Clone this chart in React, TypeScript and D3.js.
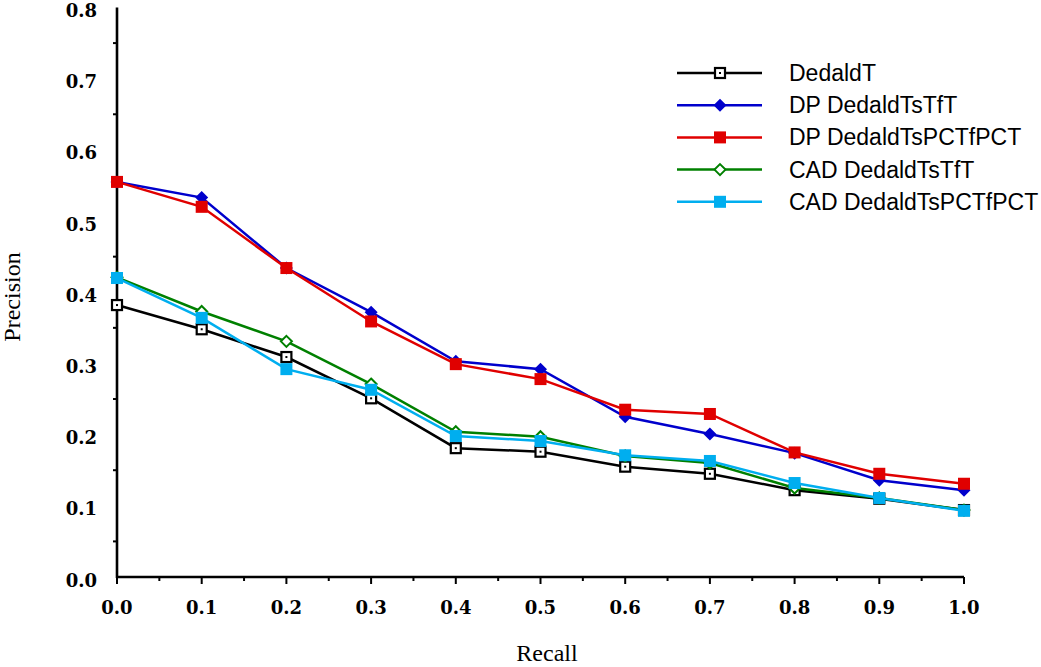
import { scaleLinear, line, range } from "d3";

const width = 1041;
const height = 667;

// recall levels shared by every series
const recall = [0, 0.1, 0.2, 0.3, 0.4, 0.5, 0.6, 0.7, 0.8, 0.9, 1.0];

// precision values
const dedaldT = [0.382, 0.348, 0.309, 0.251, 0.181, 0.176, 0.155, 0.145, 0.122, 0.11, 0.094];
const dpTsTfT = [0.555, 0.533, 0.434, 0.372, 0.303, 0.292, 0.225, 0.201, 0.174, 0.136, 0.122];
const dpTsPCT = [0.555, 0.52, 0.434, 0.359, 0.299, 0.278, 0.235, 0.229, 0.175, 0.145, 0.131];
const cadTsTfT = [0.421, 0.373, 0.331, 0.271, 0.204, 0.197, 0.17, 0.16, 0.125, 0.111, 0.094];
const cadTsPCT = [0.42, 0.364, 0.292, 0.263, 0.198, 0.191, 0.171, 0.163, 0.132, 0.111, 0.093];

const xTicks = [0, 0.1, 0.2, 0.3, 0.4, 0.5, 0.6, 0.7, 0.8, 0.9, 1.0];
const yTicks = [0, 0.1, 0.2, 0.3, 0.4, 0.5, 0.6, 0.7, 0.8];

const series = [
  { name: "DedaldT", values: dedaldT, color: "#000000", marker: "openSquare" },
  { name: "DP DedaldTsTfT", values: dpTsTfT, color: "#0000cc", marker: "diamond" },
  { name: "DP DedaldTsPCTfPCT", values: dpTsPCT, color: "#e00000", marker: "square" },
  { name: "CAD DedaldTsTfT", values: cadTsTfT, color: "#008000", marker: "openDiamond" },
  { name: "CAD DedaldTsPCTfPCT", values: cadTsPCT, color: "#00aeef", marker: "square" },
];

const x = scaleLinear().domain([0, 1]).range([117, 964]);
const y = scaleLinear().domain([0, 0.8]).range([577, 7.5]);

const Marker = ({ kind, cx, cy, color }) => {
  if (kind === "openSquare")
    return (
      <g>
        <rect x={cx - 5} y={cy - 5} width={10} height={10} fill="#fff" stroke={color} strokeWidth={2.2} />
        <rect x={cx - 1} y={cy - 1} width={2} height={2} fill={color} />
      </g>
    );
  if (kind === "square")
    return <rect x={cx - 6} y={cy - 6} width={12} height={12} fill={color} />;
  const d = `M${cx},${cy - 6.5}L${cx + 6.5},${cy}L${cx},${cy + 6.5}L${cx - 6.5},${cy}Z`;
  if (kind === "diamond") return <path d={d} fill={color} />;
  const o = `M${cx},${cy - 5.5}L${cx + 5.5},${cy}L${cx},${cy + 5.5}L${cx - 5.5},${cy}Z`;
  return <path d={o} fill="#fff" stroke={color} strokeWidth={2} />;
};

export default function App() {
  const path = line<number>()
    .x((_, i) => x(recall[i]))
    .y((d) => y(d));

  const tickFont = { fontFamily: "DejaVu Serif", fontWeight: "bold", fontSize: 18 };

  return (
    <svg
      width={width}
      height={height}
      style={{ position: "absolute", left: 0, top: 0, background: "#fff" }}
    >
      {/* axes */}
      <line x1={x(0)} x2={x(1)} y1={y(0)} y2={y(0)} stroke="#000" strokeWidth={2.6} />
      <line x1={x(0)} x2={x(0)} y1={y(0) + 1} y2={y(0.8)} stroke="#000" strokeWidth={2.6} />

      {xTicks.map((t) => (
        <g key={"xt" + t}>
          <line x1={x(t)} x2={x(t)} y1={y(0)} y2={y(0) + 7} stroke="#000" strokeWidth={2} />
          <text x={x(t)} y={614} textAnchor="middle" {...tickFont}>
            {t.toFixed(1)}
          </text>
        </g>
      ))}
      {range(0.05, 1, 0.1).map((t) => (
        <line key={"xm" + t} x1={x(t)} x2={x(t)} y1={y(0)} y2={y(0) + 4} stroke="#000" strokeWidth={2} />
      ))}
      {range(0.05, 0.8, 0.1).map((t) => (
        <line key={"ym" + t} x1={x(0) - 4} x2={x(0)} y1={y(t)} y2={y(t)} stroke="#000" strokeWidth={2} />
      ))}
      {yTicks.map((t) => (
        <text key={"yt" + t} x={97} y={y(t) + 9.5} textAnchor="end" {...tickFont}>
          {t.toFixed(1)}
        </text>
      ))}

      <text x={547} y={661} textAnchor="middle" fontFamily="Liberation Serif" fontSize={24}>
        Recall
      </text>
      <text
        transform="translate(20,297) rotate(-90)"
        textAnchor="middle"
        fontFamily="Liberation Serif"
        fontSize={24}
      >
        Precision
      </text>

      {/* series */}
      {series.map((s) => (
        <g key={s.name}>
          <path d={path(s.values)} fill="none" stroke={s.color} strokeWidth={2.5} />
          {s.values.map((v, i) => (
            <Marker key={i} kind={s.marker} cx={x(recall[i])} cy={y(v)} color={s.color} />
          ))}
        </g>
      ))}

      {/* legend */}
      {series.map((s, i) => {
        const ly = 73 + i * 32.2;
        return (
          <g key={"lg" + s.name}>
            <line x1={677} x2={762} y1={ly} y2={ly} stroke={s.color} strokeWidth={2.5} />
            <Marker kind={s.marker} cx={720} cy={ly} color={s.color} />
            <text x={789} y={ly + 8} fontFamily="Liberation Sans" fontSize={23}>
              {s.name}
            </text>
          </g>
        );
      })}
    </svg>
  );
}
